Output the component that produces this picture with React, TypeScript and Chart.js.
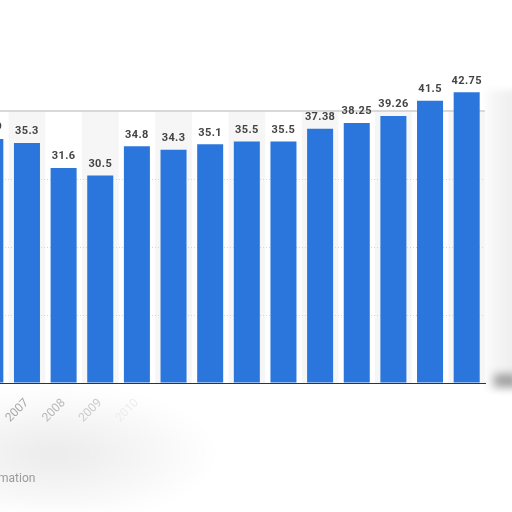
import { useEffect, useRef } from 'react';
import { Chart, registerables } from 'chart.js';

Chart.register(...registerables);

// data
const YEARS = ['2006', '2007', '2008', '2009', '2010', '2011', '2012', '2013', '2014', '2015', '2016', '2017', '2018', '2019'];
const VALUES = [35.9, 35.3, 31.6, 30.5, 34.8, 34.3, 35.1, 35.5, 35.5, 37.38, 38.25, 39.26, 41.5, 42.75];
const Y_TICKS = [0, 10, 20, 30, 40];

const BAR_BLUE = '#2a76dc';
// the year labels fade out to the right in the reference
const TICK_FADE = ['#c4c4c4', '#a8a8a8', '#b8b8b8', '#cbcbcb', '#ededed'];

const bandsPlugin = {
  id: 'bands',
  beforeDraw(chart: Chart) {
    const { ctx, chartArea, scales } = chart;
    const x = scales.x;
    const y = scales.y;
    const top = y.getPixelForValue(Y_TICKS[Y_TICKS.length - 1]);
    const half = (x.getPixelForValue(1) - x.getPixelForValue(0)) / 2;
    ctx.save();
    ctx.fillStyle = '#f6f6f6';
    YEARS.forEach((yr, i) => {
      if (Number(yr) % 2 === 1) {
        const cx = x.getPixelForValue(i);
        ctx.fillRect(cx - half, top, half * 2, chartArea.bottom - top);
      }
    });
    ctx.restore();
  },
  beforeDatasetsDraw(chart: Chart) {
    const { ctx, chartArea, scales } = chart;
    const top = scales.y.getPixelForValue(Y_TICKS[Y_TICKS.length - 1]);
    ctx.save();
    ctx.strokeStyle = '#cdcdcd';
    ctx.lineWidth = 1.5;
    ctx.beginPath();
    ctx.moveTo(chartArea.left, top);
    ctx.lineTo(chartArea.right, top);
    ctx.stroke();
    ctx.restore();
  },
};

const valueLabels = {
  id: 'valueLabels',
  afterDatasetsDraw(chart: Chart) {
    const { ctx } = chart;
    const meta = chart.getDatasetMeta(0);
    ctx.save();
    ctx.fillStyle = '#444444';
    ctx.font = "bold 11px Roboto, 'Noto Sans', sans-serif";
    (ctx as any).letterSpacing = '0.4px';
    ctx.textAlign = 'center';
    ctx.textBaseline = 'bottom';
    meta.data.forEach((bar: any, i: number) => {
      ctx.fillText(String(VALUES[i]), bar.x, bar.y - 6);
    });
    ctx.restore();
  },
};

function BarChart() {
  const canvasRef = useRef<HTMLCanvasElement | null>(null);
  const chartRef = useRef<Chart | null>(null);

  useEffect(() => {
    if (!canvasRef.current) return;
    if (chartRef.current) chartRef.current.destroy();

    chartRef.current = new Chart(canvasRef.current, {
      type: 'bar',
      data: {
        labels: YEARS,
        datasets: [
          {
            data: VALUES,
            backgroundColor: BAR_BLUE,
            borderWidth: 0,
            categoryPercentage: 1,
            barPercentage: 0.71,
          },
        ],
      },
      plugins: [bandsPlugin, valueLabels],
      options: {
        animation: false,
        responsive: true,
        maintainAspectRatio: false,
        layout: { padding: { top: 77, right: 28, left: 0, bottom: 0 } },
        scales: {
          x: {
            grid: { display: false },
            border: { color: '#333333', width: 1 },
            ticks: {
              minRotation: 45,
              maxRotation: 45,
              padding: 5,
              autoSkip: false,
              font: { family: 'Roboto', size: 12 },
              color: (c: any) => TICK_FADE[c.index] ?? 'rgba(255,255,255,0)',
            },
            afterFit: (scale: any) => {
              scale.height = 129;
              scale.paddingLeft = 0;
              scale.paddingRight = 0;
            },
          },
          y: {
            min: 0,
            max: 45,
            afterBuildTicks: (scale: any) => {
              scale.ticks = Y_TICKS.map((v) => ({ value: v }));
            },
            ticks: { display: false },
            border: { display: false, dash: [1, 2] },
            grid: {
              color: (c: any) =>
                c.tick && c.tick.value > 0 && c.tick.value < 40 ? '#d6d6d6' : 'rgba(0,0,0,0)',
              lineWidth: 1,
            },
            afterFit: (scale: any) => {
              scale.width = 0;
            },
          },
        },
        plugins: {
          legend: { display: false },
          tooltip: { enabled: false },
        },
      },
    });

    return () => {
      if (chartRef.current) {
        chartRef.current.destroy();
        chartRef.current = null;
      }
    };
  }, []);

  return (
    <div style={{ position: 'absolute', left: -28, top: 0, width: 541, height: 512 }}>
      <canvas ref={canvasRef} aria-label="Bar chart by year" />
    </div>
  );
}

export default function App() {
  return (
    <div
      style={{
        position: 'fixed',
        left: 0,
        top: 0,
        width: 512,
        height: 512,
        overflow: 'hidden',
        background: '#ffffff',
        fontFamily: 'Roboto, sans-serif',
      }}
    >
      {/* soft grey smudges of the blurred source */}
      <div
        style={{
          position: 'absolute',
          left: -80,
          top: 385,
          width: 300,
          height: 125,
          background: 'radial-gradient(ellipse at 45% 55%, rgba(0,0,0,0.08), rgba(0,0,0,0) 70%)',
          filter: 'blur(6px)',
        }}
      />
      <div
        style={{
          position: 'absolute',
          left: 486,
          top: 90,
          width: 30,
          height: 300,
          background: 'linear-gradient(to right, rgba(0,0,0,0.02), rgba(0,0,0,0.07))',
          filter: 'blur(3px)',
        }}
      />
      <div
        style={{
          position: 'absolute',
          left: 494,
          top: 374,
          width: 24,
          height: 13,
          background: 'rgba(80,80,80,0.5)',
          filter: 'blur(4px)',
        }}
      />
      <BarChart />
      <div
        style={{
          position: 'absolute',
          left: -84,
          top: 471,
          fontSize: 12,
          color: '#9a9a9a',
          filter: 'blur(0.6px)',
          whiteSpace: 'nowrap',
        }}
      >
        Additional Information
      </div>
    </div>
  );
}
